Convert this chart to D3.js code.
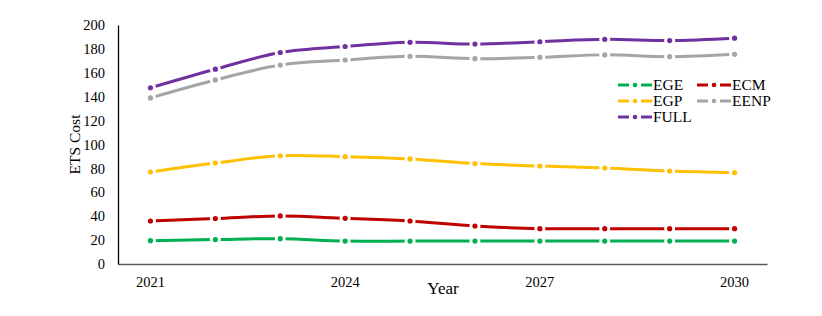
<!DOCTYPE html>
<html>
<head>
<meta charset="utf-8">
<script src="https://cdn.jsdelivr.net/npm/d3@7"></script>
<style>
  body { margin: 0; background: #fff; }
  svg { display: block; font-family: "Liberation Serif", "Times New Roman", serif; }
</style>
</head>
<body>
<svg id="chart" width="822" height="316"></svg>
<script>
const years = [2021, 2022, 2023, 2024, 2025, 2026, 2027, 2028, 2029, 2030];
const tickYears = [2021, 2024, 2027, 2030];
const yTicks = [0, 20, 40, 60, 80, 100, 120, 140, 160, 180, 200];

const ege = [19.5, 20.4, 21.2, 19.2, 19.2, 19.2, 19.2, 19.2, 19.2, 19.2];
const ecm = [36, 38, 40.2, 38.2, 36, 31.8, 29.6, 29.6, 29.6, 29.6];
const egp = [77, 84.5, 90.6, 89.8, 87.9, 84, 82, 80.3, 77.8, 76.4];
const eenp = [139, 154, 166.5, 170.7, 173.8, 171.8, 173, 175, 173.5, 175.5];
const full = [147.5, 163, 177, 182, 185.5, 184, 186, 188, 187, 189];

const seriesNames = ["EGE", "ECM", "EGP", "EENP", "FULL"];
const seriesColors = ["#00b050", "#c00000", "#ffc000", "#a5a5a5", "#7030a0"];
const seriesValues = [ege, ecm, egp, eenp, full];

const svg = d3.select("#chart");
const margin = { top: 25, bottom: 52, left: 118, right: 55 };
const width = 822, height = 316;

const x = d3.scaleBand()
  .domain(years)
  .range([margin.left, width - margin.right]);

const y = d3.scaleLinear()
  .domain([0, 200])
  .range([height - margin.bottom, margin.top]);

const cx = d => x(d) + x.bandwidth() / 2;

// x axis
const xAxis = svg.append("g")
  .attr("transform", `translate(0,${height - margin.bottom})`)
  .call(d3.axisBottom(x).tickValues(tickYears).tickSize(0).tickPadding(13));
xAxis.select(".domain").attr("stroke", "#595959").attr("stroke-width", 1.3);
xAxis.selectAll("text")
  .attr("font-family", "Liberation Serif")
  .attr("font-size", 14.5)
  .attr("fill", "#000");

// y axis
const yAxis = svg.append("g")
  .attr("transform", `translate(${margin.left},0)`)
  .call(d3.axisLeft(y).tickValues(yTicks).tickSize(0).tickPadding(13));
yAxis.select(".domain").attr("stroke", "#000").attr("stroke-width", 1.3);
yAxis.selectAll("text")
  .attr("font-family", "Liberation Serif")
  .attr("font-size", 14.5)
  .attr("fill", "#000");

svg.append("text")
  .text("ETS Cost")
  .attr("transform", `translate(80,${(margin.top + height - margin.bottom) / 2}) rotate(-90)`)
  .attr("text-anchor", "middle")
  .attr("font-size", 15.5);

svg.append("text")
  .text("Year")
  .attr("x", 443)
  .attr("y", 294)
  .attr("text-anchor", "middle")
  .attr("font-size", 17);

const line = d3.line()
  .x((d, i) => cx(years[i]))
  .y(d => y(d))
  .curve(d3.curveCatmullRom);

const plot = svg.append("g");

seriesValues.forEach((vals, k) => {
  plot.append("path")
    .attr("d", line(vals))
    .attr("fill", "none")
    .attr("stroke", seriesColors[k])
    .attr("stroke-width", 3);
});

// gaps around markers
seriesValues.forEach((vals, k) => {
  plot.append("g")
    .selectAll("circle")
    .data(vals)
    .join("circle")
    .attr("cx", (d, i) => cx(years[i]))
    .attr("cy", d => y(d))
    .attr("r", 5.5)
    .attr("fill", "#fff");
});

seriesValues.forEach((vals, k) => {
  plot.append("g")
    .selectAll("circle")
    .data(vals)
    .join("circle")
    .attr("cx", (d, i) => cx(years[i]))
    .attr("cy", d => y(d))
    .attr("r", 2.6)
    .attr("fill", seriesColors[k]);
});

// legend
const legendPos = [[618, 85], [697, 85], [618, 101], [697, 101], [618, 117]];
const legend = svg.append("g");
seriesNames.forEach((name, k) => {
  const [lx, ly] = legendPos[k];
  const item = legend.append("g").attr("transform", `translate(${lx},${ly})`);
  item.append("line").attr("x1", 0).attr("x2", 11).attr("y1", 0).attr("y2", 0)
    .attr("stroke", seriesColors[k]).attr("stroke-width", 3);
  item.append("circle").attr("cx", 17).attr("cy", 0).attr("r", 2.3).attr("fill", seriesColors[k]);
  item.append("line").attr("x1", 23).attr("x2", 34).attr("y1", 0).attr("y2", 0)
    .attr("stroke", seriesColors[k]).attr("stroke-width", 3);
  item.append("text").text(name)
    .attr("x", 35).attr("y", 5)
    .attr("font-size", 15.5);
});
</script>
</body>
</html>
